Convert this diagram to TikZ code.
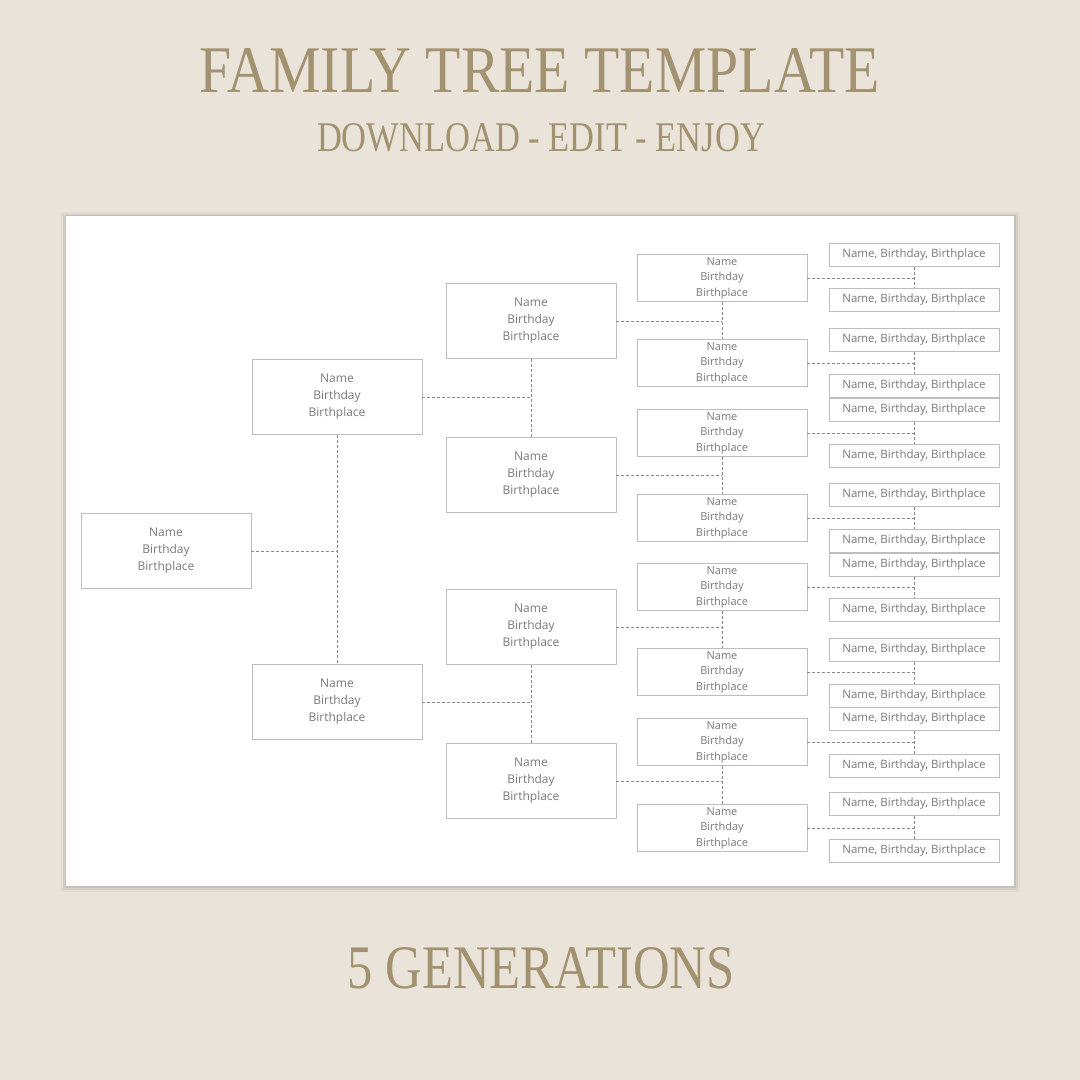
\documentclass[tikz,border=0pt]{standalone}
\usepackage{fontspec}
\setmainfont{Liberation Serif}
\newfontfamily\boxfont{Open Sans}
\definecolor{bg}{HTML}{EAE3DA}
\definecolor{gold}{HTML}{A39270}
\definecolor{boxline}{HTML}{BDBDBD}
\definecolor{txt}{HTML}{7A7A7A}
\definecolor{dash}{HTML}{8A8A8A}
\tikzset{
 pbox/.style={draw=boxline,line width=0.8pt,fill=white,minimum width=170pt,minimum height=75pt,inner sep=0pt,align=center,font=\boxfont\fontsize{12}{17}\selectfont,text=txt},
 sbox/.style={pbox,minimum height=47pt,font=\boxfont\fontsize{11}{15.5}\selectfont},
 tbox/.style={pbox,minimum height=23pt,font=\boxfont\fontsize{11.5}{14}\selectfont},
 conn/.style={draw=dash,line width=0.8pt,dash pattern=on 3pt off 2pt},
}
\begin{document}
\begin{tikzpicture}[x=1pt,y=-1pt]
\useasboundingbox (0,0) rectangle (1080,1080);
\fill[bg] (0,0) rectangle (1080,1080);
% titles
\node[text=gold,inner sep=0pt] (title) at (540,70) {\resizebox{680pt}{44pt}{FAMILY TREE TEMPLATE}};
\node[text=gold,inner sep=0pt] (sub) at (541,138) {\resizebox{448pt}{28pt}{DOWNLOAD - EDIT - ENJOY}};
\node[text=gold,inner sep=0pt] (gen) at (541,968) {\resizebox{387pt}{41pt}{5 GENERATIONS}};
% card shadow
\fill[black,opacity=0.03] (61,212) rectangle (1020,892);
\fill[black,opacity=0.05] (63,214) rectangle (1018,890);
\fill[black,opacity=0.07] (65,215) rectangle (1016,888);
\fill[white] (66,216) rectangle (1014,886);
% gen1
\node[pbox] (a) at (166,551) {Name\\Birthday\\Birthplace};
% gen2
\node[pbox] (b1) at (337,397) {Name\\Birthday\\Birthplace};
\node[pbox] (b2) at (337,702) {Name\\Birthday\\Birthplace};
% gen3
\foreach \i/\y in {1/321,2/475,3/627,4/781}
  \node[pbox] (c\i) at (531,\y) {Name\\Birthday\\Birthplace};
% gen4
\foreach \i/\y in {1/278,2/363,3/433,4/518,5/587,6/672,7/742,8/828}
  \node[sbox] (d\i) at (722,\y) {Name\\Birthday\\Birthplace};
% gen5
\foreach \i/\y in {1/255,2/300,3/340,4/386,5/410,6/456,7/495,8/541,9/565,10/610,11/650,12/696,13/719,14/766,15/804,16/851}
  \node[tbox] (e\i) at (914,\y) {Name, Birthday, Birthplace};
% connectors
\draw[conn] (b1.south) -- (b2.north);
\draw[conn] (a.east) -- (a.east -| b1.south);
\foreach \p/\u/\l in {b1/c1/c2,b2/c3/c4}{
  \draw[conn] (\u.south) -- (\l.north);
  \draw[conn] (\p.east) -- (\p.east -| \u.south);
}
\foreach \p/\u/\l in {c1/d1/d2,c2/d3/d4,c3/d5/d6,c4/d7/d8}{
  \draw[conn] (\u.south) -- (\l.north);
  \draw[conn] (\p.east) -- (\p.east -| \u.south);
}
\foreach \p/\u/\l in {d1/e1/e2,d2/e3/e4,d3/e5/e6,d4/e7/e8,d5/e9/e10,d6/e11/e12,d7/e13/e14,d8/e15/e16}{
  \draw[conn] (\u.south) -- (\l.north);
  \draw[conn] (\p.east) -- (\p.east -| \u.south);
}
\end{tikzpicture}
\end{document}
